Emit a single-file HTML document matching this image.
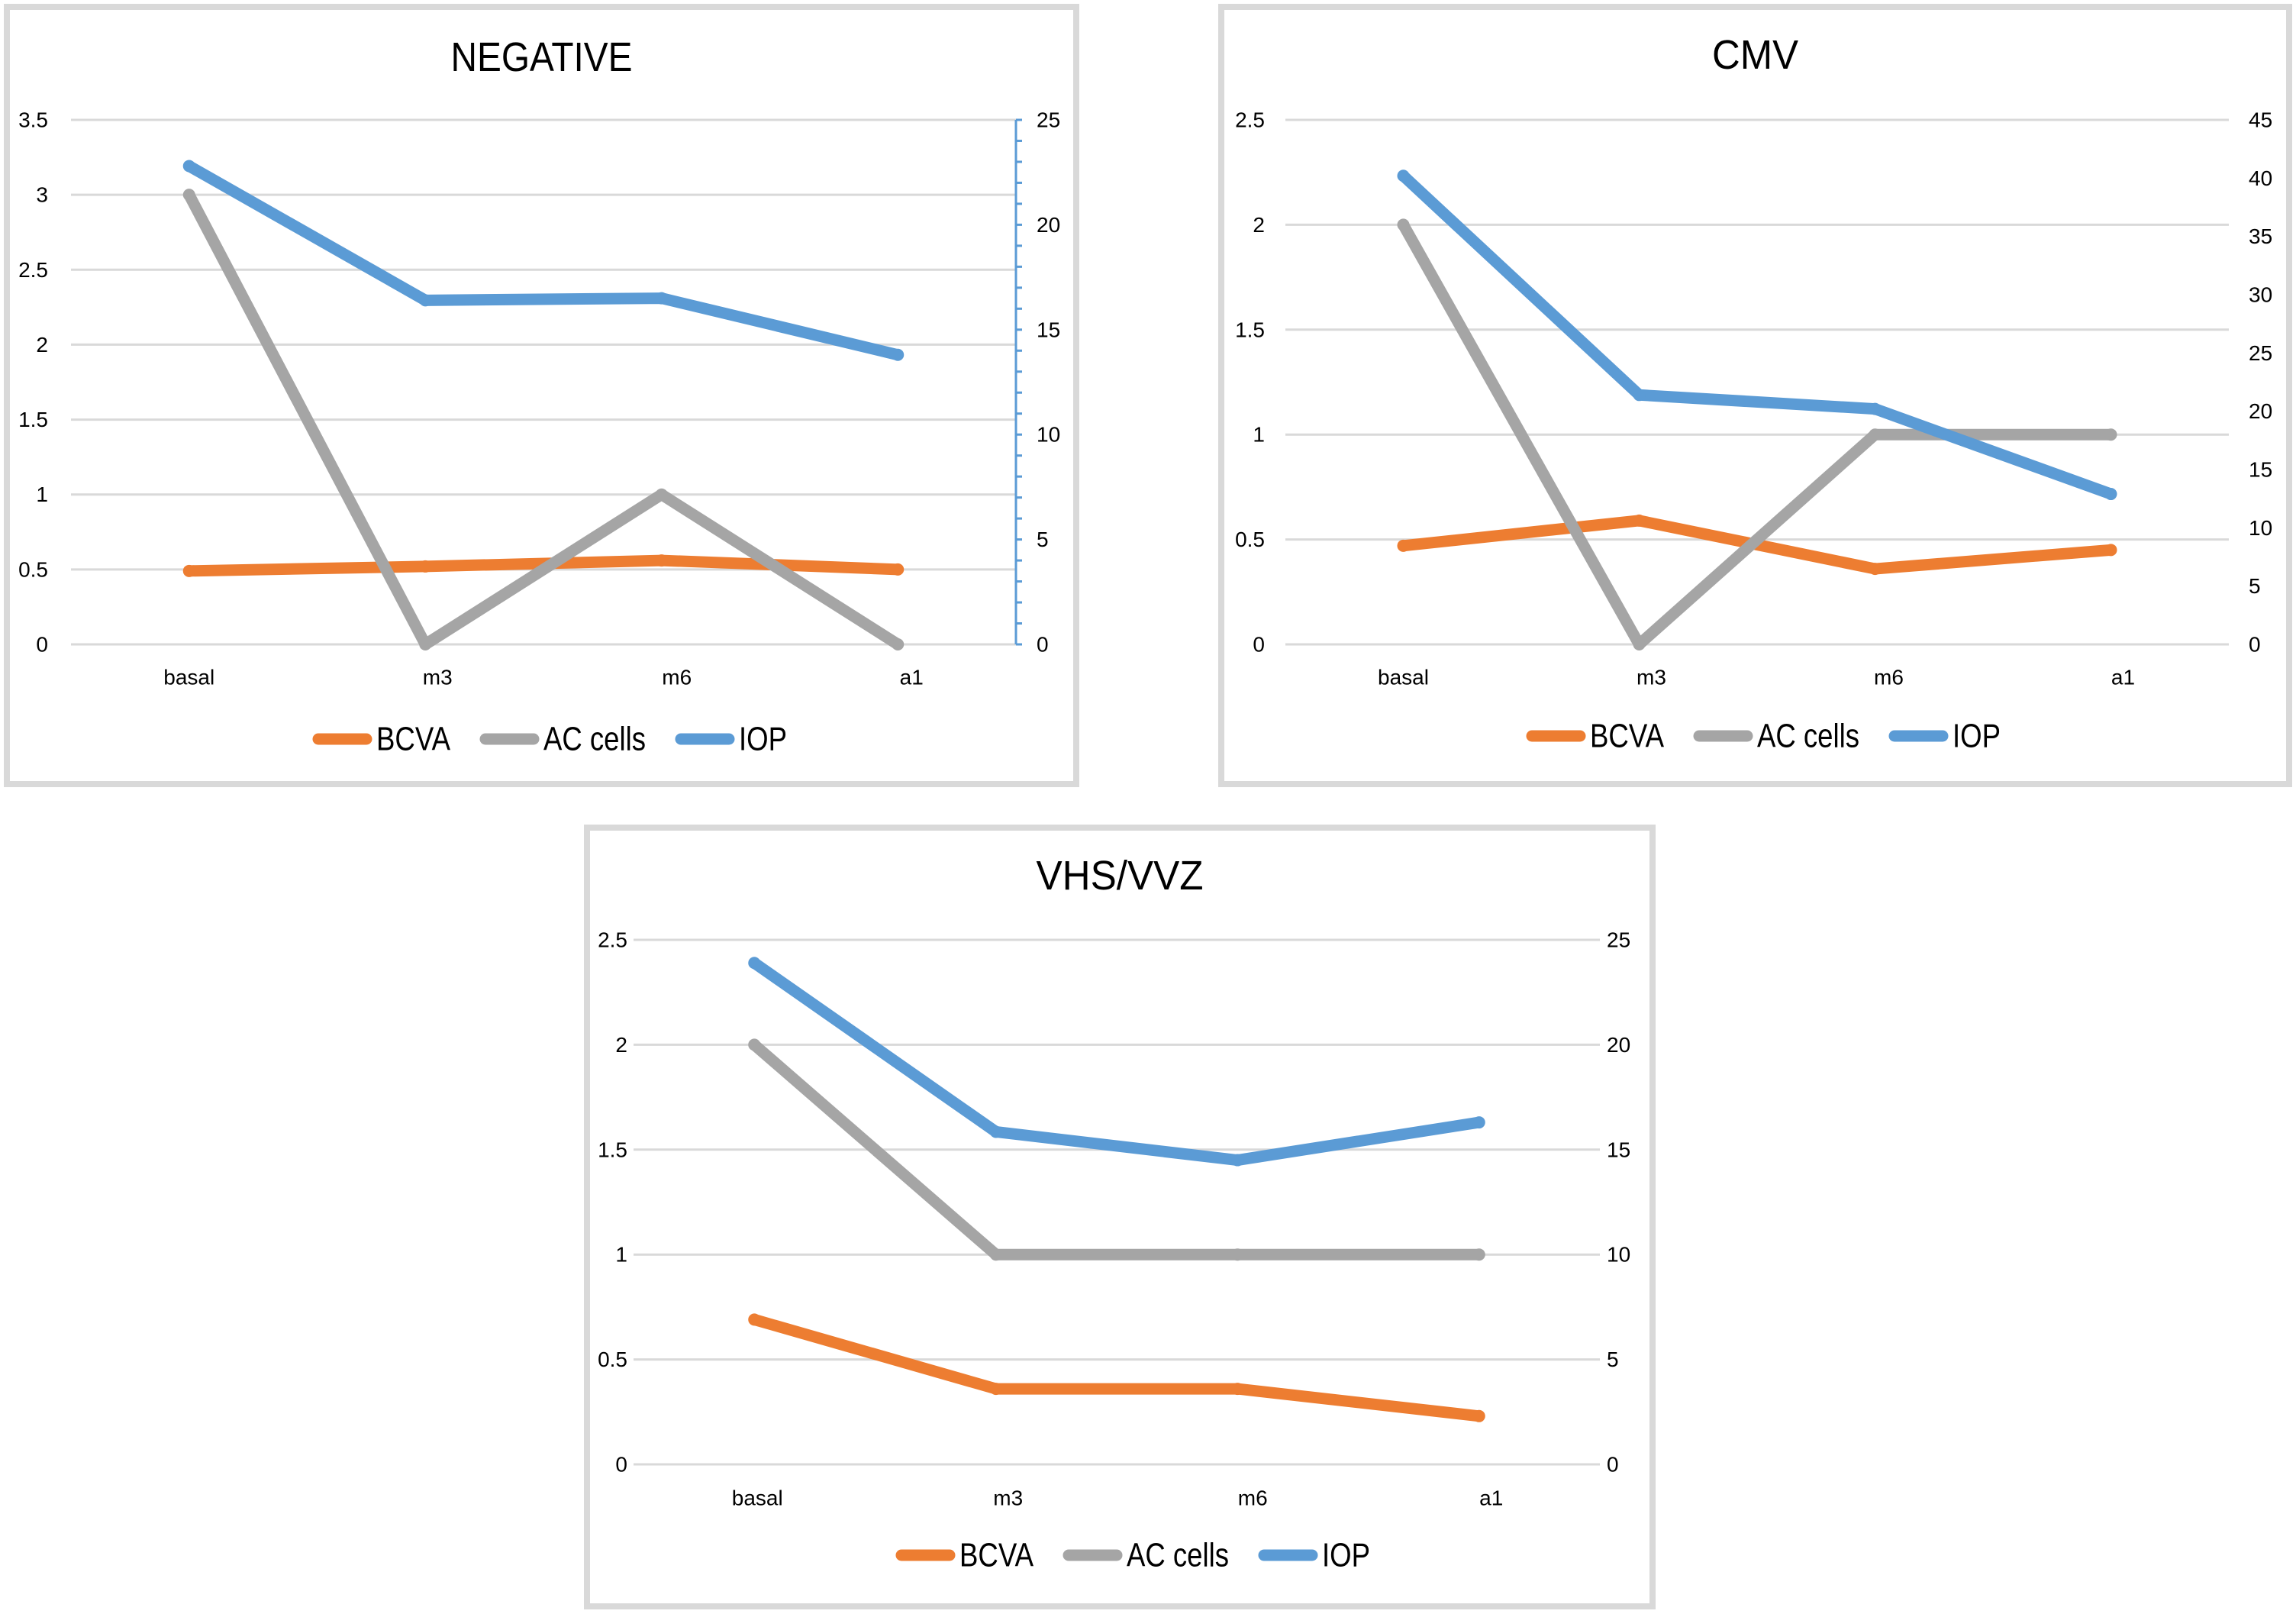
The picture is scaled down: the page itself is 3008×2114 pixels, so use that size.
<!DOCTYPE html>
<html><head><meta charset="utf-8"><style>
html,body{margin:0;padding:0;background:#fff;}
svg{display:block;}
text{font-family:"Liberation Sans",sans-serif;fill:#000;}
</style></head><body>
<svg id="svg" width="3008" height="2114" viewBox="0 0 3008 2114" xmlns="http://www.w3.org/2000/svg"></svg>
<script>
// ---- data ----
const categories = ["basal","m3","m6","a1"];
const seriesNames = ["BCVA","AC cells","IOP"];
const negTitle = "NEGATIVE";
const negBCVA = [0.49,0.52,0.56,0.50];
const negAC = [3,0,1,0];
const negIOP = [22.8,16.4,16.5,13.8];
const negLeftTicks = [0,0.5,1,1.5,2,2.5,3,3.5];
const negRightTicks = [0,5,10,15,20,25];
const cmvTitle = "CMV";
const cmvBCVA = [0.47,0.59,0.36,0.45];
const cmvAC = [2,0,1,1];
const cmvIOP = [40.2,21.4,20.2,12.9];
const cmvLeftTicks = [0,0.5,1,1.5,2,2.5];
const cmvRightTicks = [0,5,10,15,20,25,30,35,40,45];
const vhsTitle = "VHS/VVZ";
const vhsBCVA = [0.69,0.36,0.36,0.23];
const vhsAC = [2,1,1,1];
const vhsIOP = [23.9,15.85,14.5,16.3];
const vhsLeftTicks = [0,0.5,1,1.5,2,2.5];
const vhsRightTicks = [0,5,10,15,20,25];

const COLORS = ["#ED7D31","#A5A5A5","#5B9BD5"];
const NS = "http://www.w3.org/2000/svg";
const svg = document.getElementById("svg");
function mk(tag, attrs, parent){
  const e = document.createElementNS(NS, tag);
  for (const k in attrs) e.setAttribute(k, attrs[k]);
  (parent||svg).appendChild(e);
  return e;
}

function drawChart(c){
  const g = mk("g", {});
  
  
  const fr = mk("rect", {x:c.fx, y:c.fy, width:c.fw, height:c.fh, fill:"#fff", stroke:"#D9D9D9", "stroke-width":8}, g);
  
  
  const t = mk("text", {x:c.fx+c.fw/2, y:c.titleY, "font-size":54, "text-anchor":"middle", "dominant-baseline":"central", textLength:c.titleW, lengthAdjust:"spacingAndGlyphs"}, g);
  t.textContent = c.title;
  
  

  const lMax = c.leftTicks[c.leftTicks.length-1];
  const rMax = c.rightTicks[c.rightTicks.length-1];
  const yL = v => c.yBot - (v/lMax)*(c.yBot-c.yTop);
  const yR = v => c.yBot - (v/rMax)*(c.yBot-c.yTop);
  const band = (c.pR-c.pL)/categories.length;
  const xC = i => c.pL + band*(i+0.5);

  c.leftTicks.forEach(v=>{
    const gl = mk("line", {x1:c.pL, x2:c.pR, y1:yL(v), y2:yL(v), stroke:"#D9D9D9", "stroke-width":3}, g);
    
    
    const tl = mk("text", {x:c.lLabX, y:yL(v), "font-size":28, "text-anchor":"end", "dominant-baseline":"central"}, g);
    tl.textContent = String(v);
    
    
  });
  c.rightTicks.forEach(v=>{
    const tl = mk("text", {x:c.rLabX, y:yR(v), "font-size":28, "text-anchor":"start", "dominant-baseline":"central"}, g);
    tl.textContent = String(v);
    
    
  });
  if (c.rightAxisLine){
    const al = mk("line", {x1:c.pR, x2:c.pR, y1:c.yTop, y2:c.yBot, stroke:"#5B9BD5", "stroke-width":3}, g);
    
    
    for (let v=0; v<=rMax; v++){
      const tk = mk("line", {x1:c.pR, x2:c.pR+8, y1:yR(v), y2:yR(v), stroke:"#5B9BD5", "stroke-width":3}, g);
      
      
    }
  }
  categories.forEach((cat,i)=>{
    const cl = mk("text", {x:xC(i)+c.labOff[i], y:c.catY, "font-size":28, "text-anchor":"middle", "dominant-baseline":"central"}, g);
    cl.textContent = cat;
    
    
  });
  const series = [[c.bcva,yL],[c.ac,yL],[c.iop,yR]];
  series.forEach((s,si)=>{
    const pts = s[0].map((v,i)=>xC(i)+","+s[1](v)).join(" ");
    const pl = mk("polyline", {points:pts, fill:"none", stroke:COLORS[si], "stroke-width":15, "stroke-linecap":"round", "stroke-linejoin":"round"}, g);
    
    
    s[0].forEach((v,i)=>{
      const m = mk("circle", {cx:xC(i), cy:s[1](v), r:8, fill:COLORS[si]}, g);
      
      
    });
  });
  // legend
  const lg = mk("g", {}, g);
  
  
  let x = c.legX;
  const widths = [97,134,63];
  seriesNames.forEach((n,si)=>{
    const ll = mk("line", {x1:x+7, x2:x+70, y1:c.legY, y2:c.legY, stroke:COLORS[si], "stroke-width":15, "stroke-linecap":"round"}, lg);
    
    
    const lt = mk("text", {x:x+83, y:c.legY, "font-size":44, "dominant-baseline":"central", textLength:widths[si], lengthAdjust:"spacingAndGlyphs"}, lg);
    lt.textContent = n;
    
    
    x += 83 + widths[si] + 39;
  });
}

drawChart({name:"chart-negative", title:negTitle, titleW:238, fx:9, fy:9, fw:1401, fh:1018, titleY:75,
  pL:93, pR:1331, yTop:157, yBot:844, lLabX:63, rLabX:1358, catY:887, legY:968, legX:410,
  labOff:[0,16,20,18], leftTicks:negLeftTicks, rightTicks:negRightTicks, rightAxisLine:true,
  bcva:negBCVA, ac:negAC, iop:negIOP});
drawChart({name:"chart-cmv", title:cmvTitle, titleW:113, fx:1600, fy:9, fw:1399, fh:1018, titleY:72,
  pL:1684, pR:2920, yTop:157, yBot:844, lLabX:1657, rLabX:2946, catY:887, legY:964, legX:2000,
  labOff:[0,16,18,16], leftTicks:cmvLeftTicks, rightTicks:cmvRightTicks, rightAxisLine:false,
  bcva:cmvBCVA, ac:cmvAC, iop:cmvIOP});
drawChart({name:"chart-vhs-vvz", title:vhsTitle, titleW:219, fx:769, fy:1084, fw:1396, fh:1020, titleY:1147,
  pL:830, pR:2096, yTop:1231, yBot:1918, lLabX:822, rLabX:2105, catY:1962, legY:2037, legX:1174,
  labOff:[4,16,20,16], leftTicks:vhsLeftTicks, rightTicks:vhsRightTicks, rightAxisLine:false,
  bcva:vhsBCVA, ac:vhsAC, iop:vhsIOP});
</script>
</body></html>
